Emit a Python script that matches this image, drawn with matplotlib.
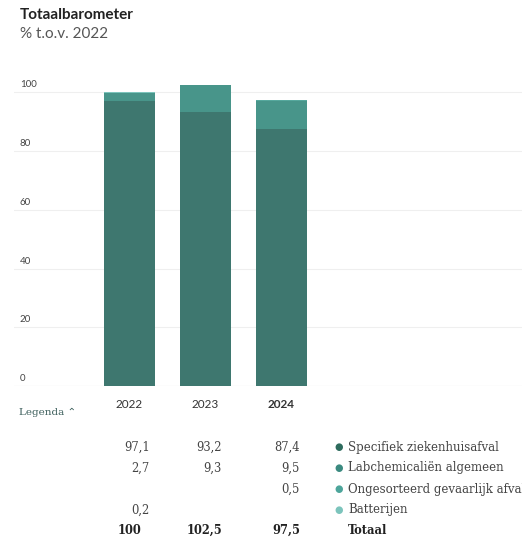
import matplotlib.pyplot as plt
import matplotlib.transforms as mtransforms

# data
years = ["2022", "2023", "2024"]
specifiek = [97.1, 93.2, 87.4]
labchem = [2.7, 9.3, 9.5]
ongesorteerd = [0.0, 0.0, 0.5]
batterijen = [0.2, 0.0, 0.0]
totals = ["100", "102,5", "97,5"]
series_names = ["Specifiek ziekenhuisafval", "Labchemicaliën algemeen",
                "Ongesorteerd gevaarlijk afval", "Batterijen"]
table_rows = [["97,1", "93,2", "87,4"],
              ["2,7", "9,3", "9,5"],
              ["", "", "0,5"],
              ["0,2", "", ""]]
yticks = [0, 20, 40, 60, 80, 100]

bar_colors = ["#3e776f", "#48958a", "#56a89d", "#7cc4bc"]
dot_colors = ["#2d6b5d", "#3b8a80", "#4da59b", "#7cc4bc"]

W, H = 522, 539
fig = plt.figure(figsize=(W / 100, H / 100), dpi=100)

def px(x, y):
    return x / W, 1 - y / H

ax = fig.add_axes([14 / W, (H - 386) / H, (W - 14) / W, 323 / H])
x = range(len(years))
bottom = [0, 0, 0]
for vals, c in zip([specifiek, labchem, ongesorteerd, batterijen], bar_colors):
    ax.bar(x, vals, bottom=bottom, width=0.67, color=c, zorder=2)
    bottom = [b + v for b, v in zip(bottom, vals)]

ax.set_xlim(-1.52, 5.16)
ax.set_ylim(0, 110)
for s in ax.spines.values():
    s.set_visible(False)
ax.set_xticks([])
ax.set_yticks([])
trans = mtransforms.blended_transform_factory(fig.transFigure, ax.transData)
for t in yticks:
    ax.axhline(t, color="#cfcfcf" if t == 0 else "#efefef", lw=0.8, zorder=1)
    ax.text(20 / W, t + 1, str(t), transform=trans, fontsize=7, color="#444444",
            va="bottom", ha="left", family="Lato")

fig.text(*px(20, 15), "Totaalbarometer", fontsize=11, fontweight="bold",
         color="#222222", va="center", family="Lato")
fig.text(*px(20, 34), "% t.o.v. 2022", fontsize=11, color="#555555",
         va="center", family="Lato")

centers = [129.5, 205.5, 281.5]
for i, (cx, yr) in enumerate(zip(centers, years)):
    fig.text(*px(cx, 404), yr, fontsize=8.5, ha="center", va="center",
             color="#333333", family="Lato",
             fontweight="bold" if i == len(years) - 1 else "normal")
fig.text(*px(19, 412), "Legenda ⌃", fontsize=7.5, color="#3d5f5c", va="center",
         family=["DejaVu Serif", "DejaVu Sans"])

right_edges = [150, 222, 300]
total_edges = [141, 222, 300]
row_y = [447, 468, 489, 510, 530]
for r, row in enumerate(table_rows):
    for xe, val in zip(right_edges, row):
        fig.text(*px(xe, row_y[r]), val, fontsize=8.3, ha="right", va="center",
                 color="#444444", family="DejaVu Serif")
    fig.text(*px(339, row_y[r]), "●", fontsize=7, ha="center", va="center",
             color=dot_colors[r], family="DejaVu Sans")
    fig.text(*px(348, row_y[r]), series_names[r], fontsize=8.5, ha="left",
             va="center", color="#444444", family="DejaVu Serif")
for xe, val in zip(total_edges, totals):
    fig.text(*px(xe, row_y[4]), val, fontsize=8.3, ha="right", va="center",
             color="#222222", fontweight="bold", family="DejaVu Serif")
fig.text(*px(348, row_y[4]), "Totaal", fontsize=8.3, ha="left", va="center",
         color="#222222", fontweight="bold", family="DejaVu Serif")

fig.savefig("out.png", dpi=100)
